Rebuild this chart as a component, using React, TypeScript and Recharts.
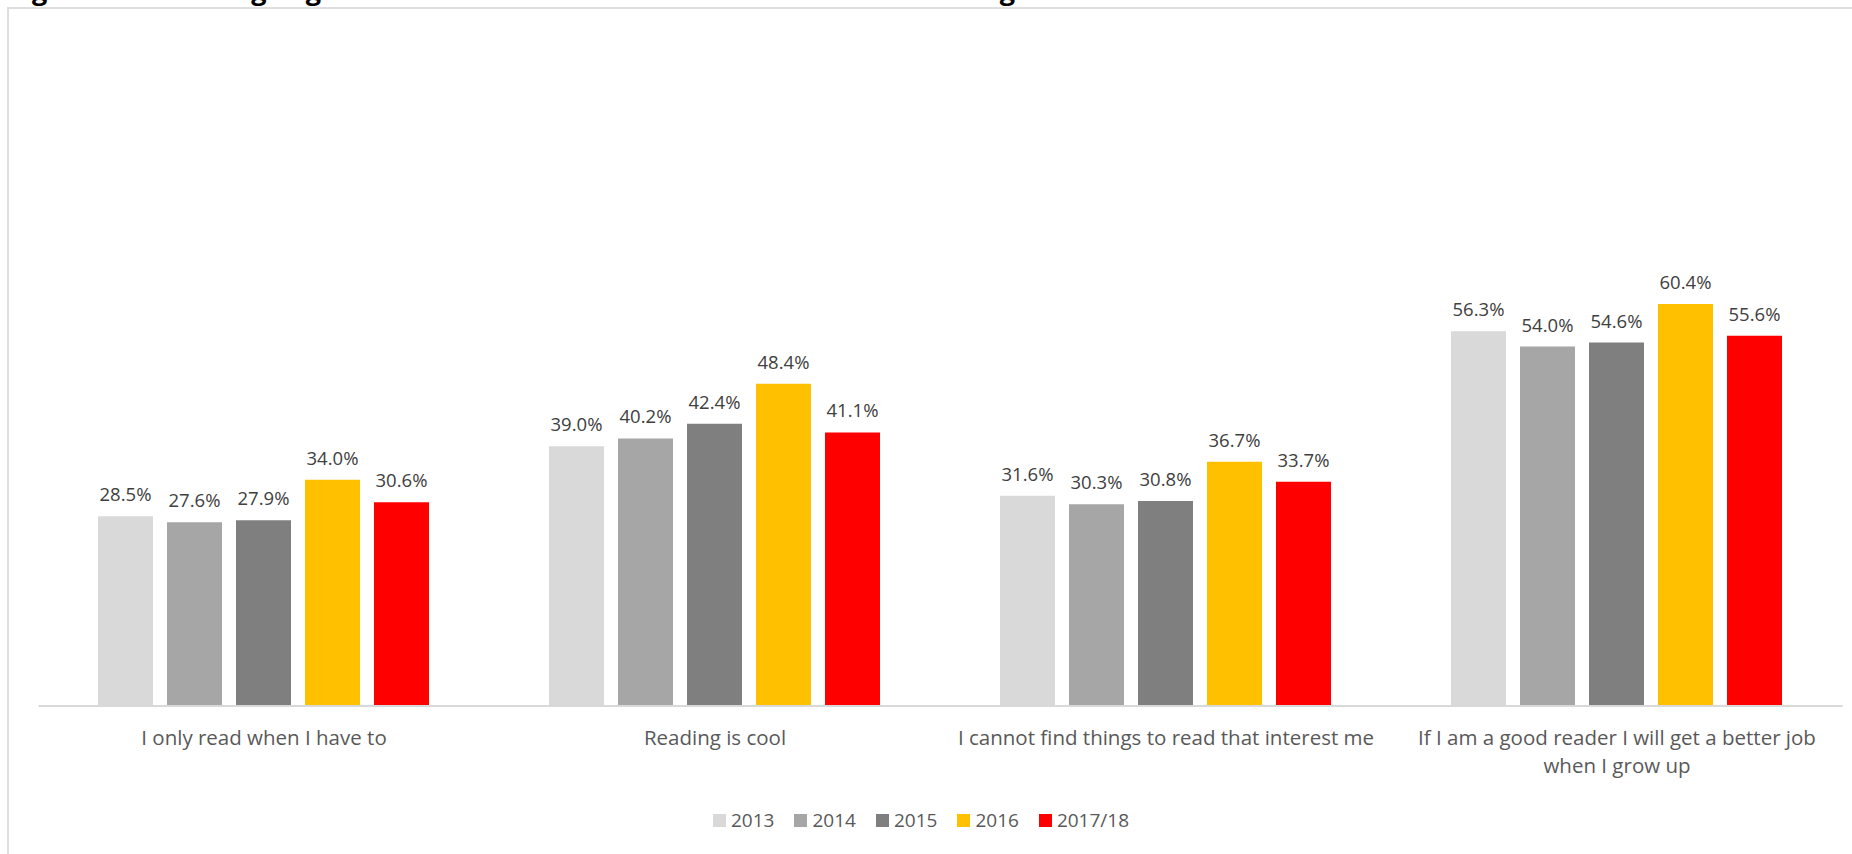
import { BarChart, Bar, XAxis, YAxis, LabelList } from 'recharts';

// ---- data ----
const categories = [
  'I only read when I have to',
  'Reading is cool',
  'I cannot find things to read that interest me',
  'If I am a good reader I will get a better job when I grow up',
];

const years = ['2013', '2014', '2015', '2016', '2017/18'];

const values2013 = [28.5, 39.0, 31.6, 56.3];
const values2014 = [27.6, 40.2, 30.3, 54.0];
const values2015 = [27.9, 42.4, 30.8, 54.6];
const values2016 = [34.0, 48.4, 36.7, 60.4];
const values2017 = [30.6, 41.1, 33.7, 55.6];

const COLORS = ['#d9d9d9', '#a6a6a6', '#7f7f7f', '#ffc000', '#ff0000'];
const KEYS = ['y2013', 'y2014', 'y2015', 'y2016', 'y2017'];

const data = categories.map((name, i) => ({
  name,
  y2013: values2013[i],
  y2014: values2014[i],
  y2015: values2015[i],
  y2016: values2016[i],
  y2017: values2017[i],
}));

const FONT = '"Open Sans", sans-serif';
const TICK_SIZE = 20.5;

// simple word wrap using canvas text metrics
let ctx: CanvasRenderingContext2D | null = null;
const wrap = (str: string, maxWidth: number) => {
  if (!ctx) ctx = document.createElement('canvas').getContext('2d');
  if (!ctx) return [str];
  ctx.font = `${TICK_SIZE}px ${FONT}`;
  const lines: string[] = [];
  let cur = '';
  str.split(' ').forEach((w) => {
    const next = cur ? `${cur} ${w}` : w;
    if (cur && ctx!.measureText(next).width > maxWidth) {
      lines.push(cur);
      cur = w;
    } else {
      cur = next;
    }
  });
  if (cur) lines.push(cur);
  return lines;
};

const CategoryTick = ({ x, y, payload }: any) => {
  const lines = wrap(String(payload.value), 440);
  return (
    <text x={x} y={y + 39} textAnchor="middle" fill="#595959" fontSize={TICK_SIZE} fontFamily={FONT}>
      {lines.map((l, i) => (
        <tspan key={i} x={x} dy={i === 0 ? 0 : 28}>
          {l}
        </tspan>
      ))}
    </text>
  );
};

const pct = (v: any) => `${Number(v).toFixed(1)}%`;

export default function App() {
  return (
    <div style={{ position: 'relative', width: 1852, height: 854, overflow: 'hidden', background: '#fff' }}>
      <style>{`body{margin:0;overflow:hidden}`}</style>

      {/* title, mostly cut off above the frame */}
      <svg width={1852} height={10} style={{ position: 'absolute', left: 0, top: 0 }}>
        <text x={9} y={-0.5} fontFamily={FONT} fontWeight="bold" fontSize={27} fill="#000">
          Figure 1: Percentage agreement with attitudinal statements about reading between 2013 and 2017/18
        </text>
      </svg>

      {/* chart frame */}
      <div
        style={{
          position: 'absolute',
          left: 7,
          top: 7,
          width: 1860,
          height: 860,
          borderTop: '2px solid #dedede',
          borderLeft: '2px solid #dedede',
        }}
      />

      <div style={{ position: 'absolute', left: 0, top: 0 }}>
        <BarChart
          width={1852}
          height={854}
          data={data}
          margin={{ top: 240, right: 9.5, bottom: 88, left: 38.5 }}
          barCategoryGap={59.5}
          barGap={14}
        >
          <XAxis
            dataKey="name"
            height={60}
            tickLine={false}
            tickSize={0}
            tickMargin={0}
            axisLine={{ stroke: '#d9d9d9', strokeWidth: 2 }}
            tick={(props: any) => <CategoryTick {...props} />}
            interval={0}
          />
          <YAxis hide domain={[0, 70]} />
          {KEYS.map((k, i) => (
            <Bar key={k} dataKey={k} name={years[i]} fill={COLORS[i]} isAnimationActive={false}>
              <LabelList
                dataKey={k}
                position="top"
                offset={15}
                formatter={pct}
                fill="#404040"
                fontSize={18.5}
                fontFamily={FONT}
              />
            </Bar>
          ))}
        </BarChart>
      </div>

      {/* legend */}
      <div
        style={{
          position: 'absolute',
          left: 713,
          top: 806,
          display: 'flex',
          alignItems: 'center',
          fontFamily: FONT,
          fontSize: 19,
          color: '#595959',
          lineHeight: '28px',
        }}
      >
        {years.map((yr, i) => (
          <div key={yr} style={{ display: 'flex', alignItems: 'center', marginRight: 20 }}>
            <span style={{ width: 13, height: 13, background: COLORS[i], marginRight: 5, display: 'inline-block' }} />
            <span>{yr}</span>
          </div>
        ))}
      </div>
    </div>
  );
}
